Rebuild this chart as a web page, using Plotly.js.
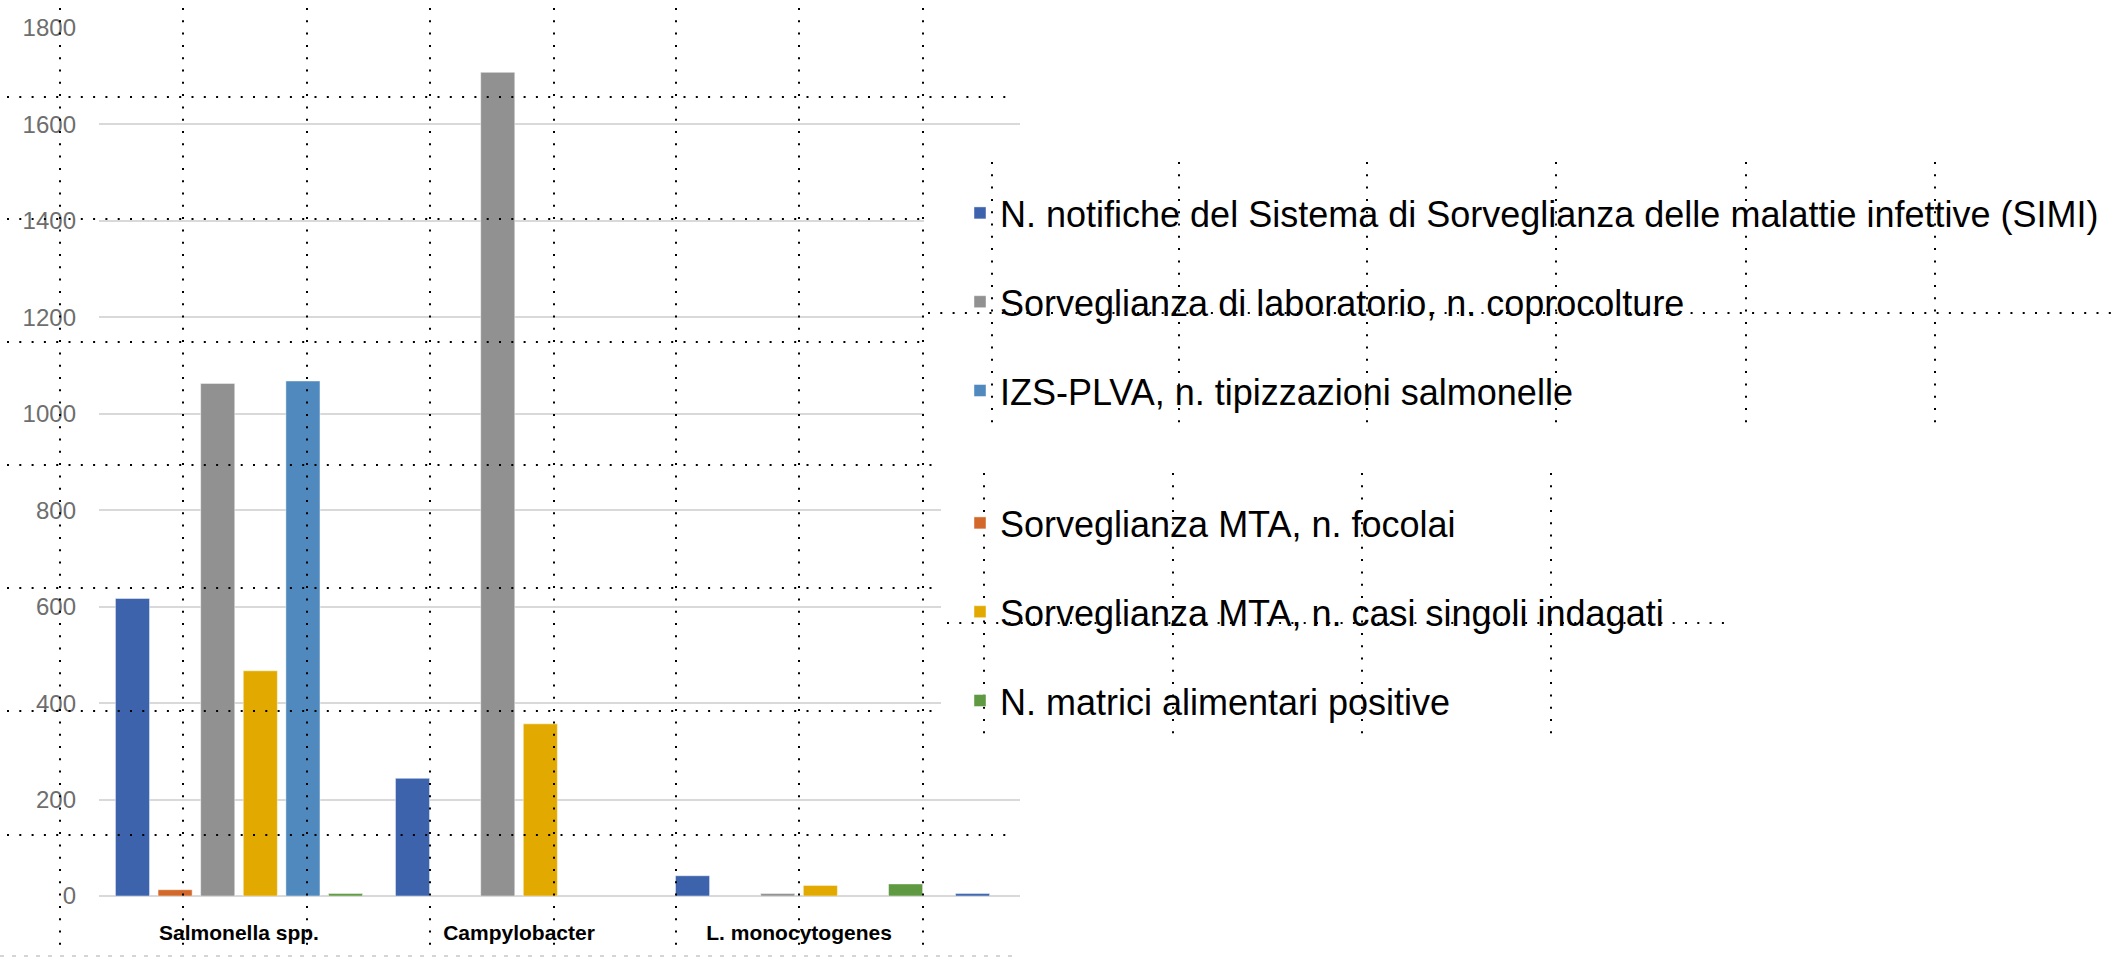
<!DOCTYPE html>
<html>
<head>
<meta charset="utf-8">
<script src="https://cdn.plot.ly/plotly-3.0.1.min.js"></script>
<style>html,body{margin:0;padding:0;background:#fff;overflow:hidden;width:2121px;height:958px;}#chart{width:2121px;height:958px;overflow:hidden;}</style>
</head>
<body>
<div id="chart"></div>
<script>
// ---- data ----
const categories = ['Salmonella spp.', 'Campylobacter', 'L. monocytogenes', ' '];
const seriesNames = [
  'N. notifiche del Sistema di Sorveglianza delle malattie infettive (SIMI)',
  'Sorveglianza MTA, n. focolai',
  'Sorveglianza di laboratorio, n. coprocolture',
  'Sorveglianza MTA, n. casi singoli indagati',
  'IZS-PLVA, n. tipizzazioni salmonelle',
  'N. matrici alimentari positive'
];
const simi         = [617, 244, 42, 5];
const focolai      = [13, null, null, null];
const coprocolture = [1063, 1708, 5, null];
const casiSingoli  = [467, 357, 22, null];
const izs          = [1068, null, null, null];
const matrici      = [5, null, 25, null];
const yTicks = [0, 200, 400, 600, 800, 1000, 1200, 1400, 1600, 1800];

// ---- styling ----
const colors = ['#3C63AC', '#D2692A', '#919191', '#E2AA00', '#4F89BD', '#5F9941'];
const legendOf = ['legend', 'legend2', 'legend', 'legend2', 'legend', 'legend2'];
const values = [simi, focolai, coprocolture, casiSingoli, izs, matrici];

const traces = values.map((v, i) => ({
  type: 'bar',
  name: seriesNames[i],
  x: categories,
  y: v,
  marker: {color: colors[i], line: {color: 'rgba(255,255,255,0.45)', width: 1}},
  legend: legendOf[i],
  legendgroup: 'g' + i,
  hoverinfo: 'x+y+name'
}));

// pixel helpers (plot area)
const W = 2121, H = 958, L = 99, R = 1020, T = 28, B = 896;
const px = p => (p - L) / (R - L);
const py = p => (B - p) / (B - T);
const dotLine = {color: '#000', width: 2, dash: '2px,10.3px'};
function hl(y, x0, x1, line) {
  return {type: 'line', xref: 'paper', yref: 'paper', layer: 'above',
          x0: px(x0), x1: px(x1), y0: py(y), y1: py(y), line: line || dotLine};
}
function vl(x, y0, y1, line) {
  return {type: 'line', xref: 'paper', yref: 'paper', layer: 'above',
          x0: px(x), x1: px(x), y0: py(y0), y1: py(y1), line: line || dotLine};
}
function box(x0, y0, x1, y1) {
  return {type: 'rect', xref: 'paper', yref: 'paper', layer: 'above',
          x0: px(x0), x1: px(x1), y0: py(y0), y1: py(y1),
          fillcolor: '#ffffff', line: {width: 0}};
}

const shapes = [];
// overlay grid over the chart
[60, 183, 307, 430, 554, 676, 799, 923].forEach(x => shapes.push(vl(x, 8, 948)));
[97, 219, 342, 465, 588, 711, 835].forEach(y => shapes.push(hl(y, 7, 1014)));
shapes.push(hl(956, 0, 1020, {color: '#c8c8c8', width: 1.5, dash: '4px,8px'}));
// legend boxes
shapes.push(box(924, 140, 1040, 445));
shapes.push(box(941, 455, 1040, 780));
// overlay grid inside the legend areas
[992, 1179, 1367, 1556, 1746, 1935].forEach(x => shapes.push(vl(x, 162, 430)));
shapes.push(hl(313, 928, 2118));
[984, 1173, 1362, 1551].forEach(x => shapes.push(vl(x, 473, 740)));
shapes.push(hl(623, 947, 1725));

const legendFont = {family: 'Liberation Sans, Arial, sans-serif', size: 36, color: '#000'};
const layout = {
  width: W, height: H,
  margin: {l: L, r: W - R, t: T, b: H - B, pad: 0},
  paper_bgcolor: '#fff', plot_bgcolor: '#fff',
  barmode: 'group', bargap: 0.087, bargroupgap: 0.2,
  xaxis: {
    type: 'category', categoryorder: 'array', categoryarray: categories,
    range: [-0.5, 2.789], showgrid: false, zeroline: false, showline: false,
    ticks: '', ticklabelstandoff: 22,
    tickfont: {family: 'Liberation Sans, Arial, sans-serif', size: 21, color: '#000', weight: 'bold'}
  },
  yaxis: {
    range: [0, 1800], tickvals: yTicks, ticktext: yTicks.map(String),
    showgrid: true, gridcolor: '#d9d9d9', gridwidth: 2,
    zeroline: true, zerolinecolor: '#d9d9d9', zerolinewidth: 2,
    showline: false, ticks: '', ticklabelstandoff: 22,
    tickfont: {family: 'Liberation Sans, Arial, sans-serif', size: 24, color: '#6e6e6e'}
  },
  legend: {
    x: px(960), xanchor: 'left', y: py(183), yanchor: 'top',
    bgcolor: 'rgba(0,0,0,0)', font: legendFont,
    traceorder: 'grouped', tracegroupgap: 39
  },
  legend2: {
    x: px(960), xanchor: 'left', y: py(493), yanchor: 'top',
    bgcolor: 'rgba(0,0,0,0)', font: legendFont,
    traceorder: 'grouped', tracegroupgap: 39
  },
  shapes: shapes,
  showlegend: true
};

Plotly.newPlot('chart', traces, layout, {displayModeBar: false, staticPlot: true});
</script>
</body>
</html>
